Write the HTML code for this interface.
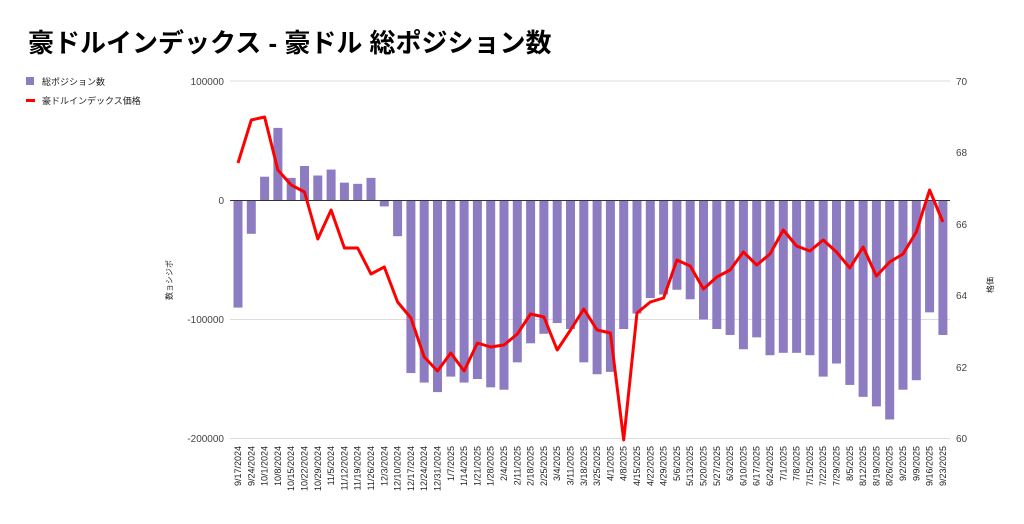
<!DOCTYPE html>
<html><head><meta charset="utf-8"><style>
body{margin:0;background:#fff;width:1024px;height:519px;overflow:hidden;font-family:"Liberation Sans","Noto Sans CJK JP",sans-serif}
svg text{font-family:"Liberation Sans","Noto Sans CJK JP",sans-serif}
</style></head><body>
<svg id="c" width="1024" height="519" xmlns="http://www.w3.org/2000/svg">
<text x="28" y="52" font-size="26" font-weight="bold" fill="#000">豪ドルインデックス - 豪ドル 総ポジション数</text>
<rect x="26" y="77" width="8" height="8" fill="#8e7cc3"/>
<text x="42" y="85" font-size="9" fill="#222">総ポジション数</text>
<rect x="26" y="99" width="9" height="3" fill="#f00"/>
<text x="42" y="104" font-size="9" fill="#222">豪ドルインデックス価格</text>
<g stroke="#ddd" stroke-width="1">
<line x1="230" x2="950" y1="81" y2="81"/><line x1="230" x2="950" y1="319.5" y2="319.5"/><line x1="230" x2="950" y1="438.5" y2="438.5"/>
</g>
<g font-size="10" fill="#444" text-anchor="end">
<text x="224" y="85">100000</text><text x="224" y="204">0</text><text x="224" y="323">-100000</text><text x="224" y="442">-200000</text>
</g>
<g font-size="10" fill="#444">
<text x="956" y="85">70</text><text x="956" y="156">68</text><text x="956" y="228">66</text><text x="956" y="299">64</text><text x="956" y="371">62</text><text x="956" y="442">60</text>
</g>
<text font-size="8" fill="#222" transform="translate(172,280) rotate(-90)" text-anchor="middle">数ョシジポ</text>
<text font-size="8" fill="#222" transform="translate(993,285) rotate(-90)" text-anchor="middle">格価</text>
<g id="bars" fill="#8e7cc3"></g>
<line x1="230" x2="950" y1="200.5" y2="200.5" stroke="#333" stroke-width="1"/>
<polyline id="ln" fill="none" stroke="#f00" stroke-width="3" stroke-linejoin="round"/>
<g font-size="9" fill="#222" text-anchor="end">
<text transform="translate(241,446) rotate(-90)">9/17/2024</text>
<text transform="translate(254.3,446) rotate(-90)">9/24/2024</text>
<text transform="translate(267.6,446) rotate(-90)">10/1/2024</text>
<text transform="translate(280.9,446) rotate(-90)">10/8/2024</text>
<text transform="translate(294.2,446) rotate(-90)">10/15/2024</text>
<text transform="translate(307.5,446) rotate(-90)">10/22/2024</text>
<text transform="translate(320.8,446) rotate(-90)">10/29/2024</text>
<text transform="translate(334.1,446) rotate(-90)">11/5/2024</text>
<text transform="translate(347.4,446) rotate(-90)">11/12/2024</text>
<text transform="translate(360.7,446) rotate(-90)">11/19/2024</text>
<text transform="translate(374,446) rotate(-90)">11/26/2024</text>
<text transform="translate(387.3,446) rotate(-90)">12/3/2024</text>
<text transform="translate(400.6,446) rotate(-90)">12/10/2024</text>
<text transform="translate(413.9,446) rotate(-90)">12/17/2024</text>
<text transform="translate(427.2,446) rotate(-90)">12/24/2024</text>
<text transform="translate(440.5,446) rotate(-90)">12/31/2024</text>
<text transform="translate(453.8,446) rotate(-90)">1/7/2025</text>
<text transform="translate(467.1,446) rotate(-90)">1/14/2025</text>
<text transform="translate(480.4,446) rotate(-90)">1/21/2025</text>
<text transform="translate(493.7,446) rotate(-90)">1/28/2025</text>
<text transform="translate(507,446) rotate(-90)">2/4/2025</text>
<text transform="translate(520.3,446) rotate(-90)">2/11/2025</text>
<text transform="translate(533.6,446) rotate(-90)">2/18/2025</text>
<text transform="translate(546.9,446) rotate(-90)">2/25/2025</text>
<text transform="translate(560.2,446) rotate(-90)">3/4/2025</text>
<text transform="translate(573.5,446) rotate(-90)">3/11/2025</text>
<text transform="translate(586.8,446) rotate(-90)">3/18/2025</text>
<text transform="translate(600.1,446) rotate(-90)">3/25/2025</text>
<text transform="translate(613.4,446) rotate(-90)">4/1/2025</text>
<text transform="translate(626.7,446) rotate(-90)">4/8/2025</text>
<text transform="translate(640,446) rotate(-90)">4/15/2025</text>
<text transform="translate(653.3,446) rotate(-90)">4/22/2025</text>
<text transform="translate(666.6,446) rotate(-90)">4/29/2025</text>
<text transform="translate(679.9,446) rotate(-90)">5/6/2025</text>
<text transform="translate(693.2,446) rotate(-90)">5/13/2025</text>
<text transform="translate(706.5,446) rotate(-90)">5/20/2025</text>
<text transform="translate(719.8,446) rotate(-90)">5/27/2025</text>
<text transform="translate(733.1,446) rotate(-90)">6/3/2025</text>
<text transform="translate(746.4,446) rotate(-90)">6/10/2025</text>
<text transform="translate(759.7,446) rotate(-90)">6/17/2025</text>
<text transform="translate(773,446) rotate(-90)">6/24/2025</text>
<text transform="translate(786.3,446) rotate(-90)">7/1/2025</text>
<text transform="translate(799.6,446) rotate(-90)">7/8/2025</text>
<text transform="translate(812.9,446) rotate(-90)">7/15/2025</text>
<text transform="translate(826.2,446) rotate(-90)">7/22/2025</text>
<text transform="translate(839.5,446) rotate(-90)">7/29/2025</text>
<text transform="translate(852.8,446) rotate(-90)">8/5/2025</text>
<text transform="translate(866.1,446) rotate(-90)">8/12/2025</text>
<text transform="translate(879.4,446) rotate(-90)">8/19/2025</text>
<text transform="translate(892.7,446) rotate(-90)">8/26/2025</text>
<text transform="translate(906,446) rotate(-90)">9/2/2025</text>
<text transform="translate(919.3,446) rotate(-90)">9/9/2025</text>
<text transform="translate(932.6,446) rotate(-90)">9/16/2025</text>
<text transform="translate(945.9,446) rotate(-90)">9/23/2025</text>
</g>
</svg>
<script>
var b=[-90,-28,20,61,19,29,21,26,15,14,19,-5,-30,-145,-153,-161,-148,-153,-150,-157,-159,-136,-120,-112,-103,-108,-136,-146,-144,-108,-95,-82,-79,-75,-83,-100,-108,-113,-125,-115,-130,-128,-128,-130,-148,-137,-155,-165,-173,-184,-159,-151,-94,-113];
var l=[163,120,117,170,185,192,239,210,248,248,274,267,302,318,357,371,353,371,343,347,345,334,314,317,350,330,309,330,333,440,313,302,298,260,266,289,277,270,252,265,254,230,246,251,240,252,268,247,276,262,254,232,190,222];
var g=document.getElementById('bars'),s='',p=[];
for(var i=0;i<54;i++){var x=238+i*13.3,h=b[i]*1.19,y=h>0?200.5-h:200.5;
s+='<rect x="'+(x-4.5)+'" y="'+y+'" width="9" height="'+Math.abs(h)+'"/>';p.push(x+','+l[i]);}
g.innerHTML=s;document.getElementById('ln').setAttribute('points',p.join(' '));
</script>
</body></html>
